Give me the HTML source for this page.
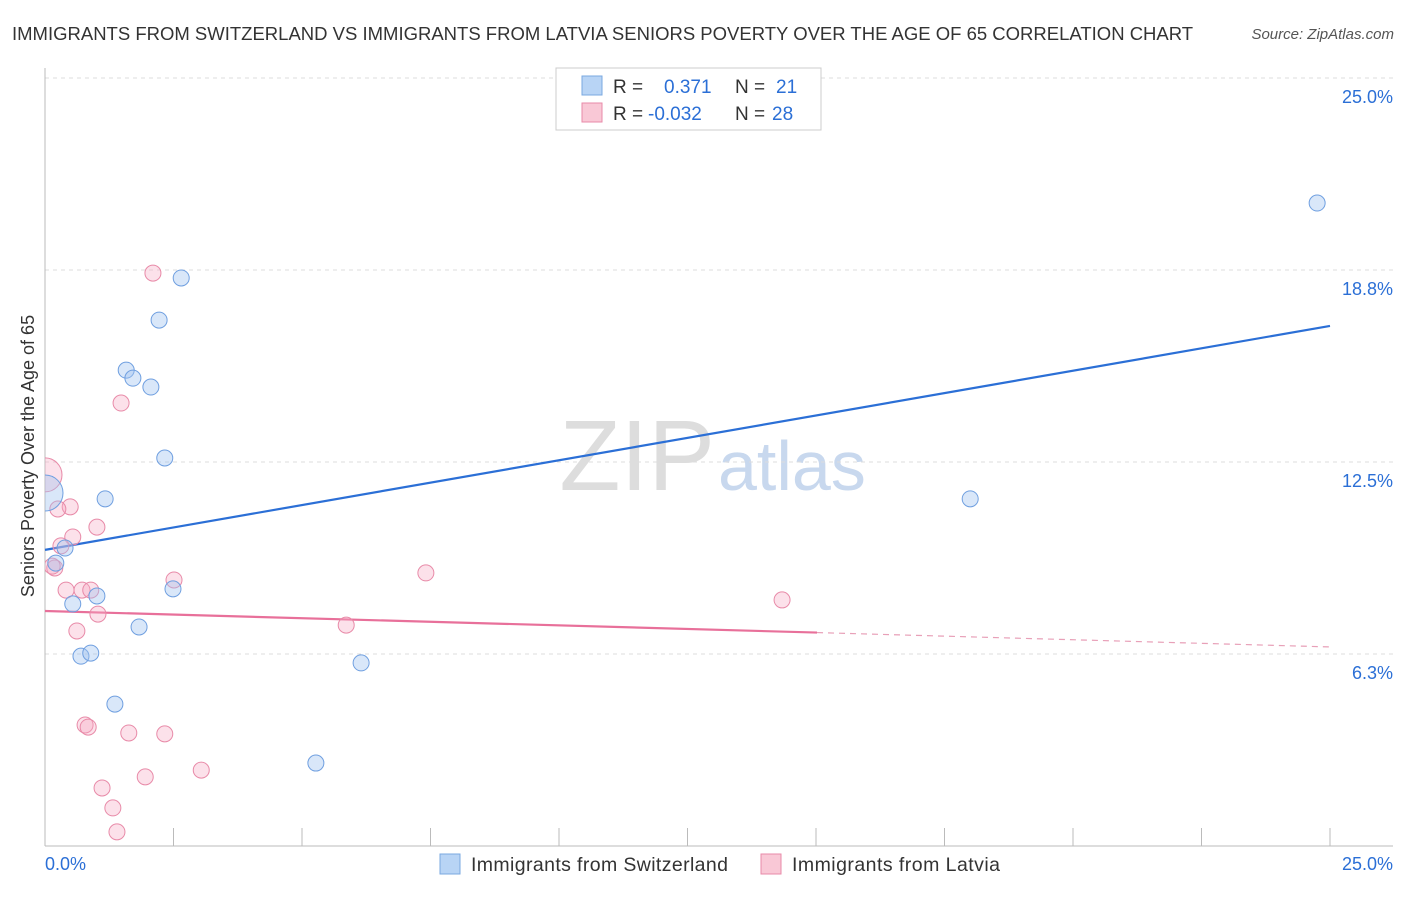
<!DOCTYPE html>
<html><head><meta charset="utf-8"><style>
body{margin:0;background:#fff;font-family:"Liberation Sans",sans-serif;}
svg text{font-family:"Liberation Sans",sans-serif;}
</style></head><body>
<svg id="chart" width="1406" height="892">
<defs><clipPath id="plotclip"><rect x="45" y="60" width="1360" height="786"/></clipPath></defs>
<text x="12" y="40" font-size="18.5" fill="#333">IMMIGRANTS FROM SWITZERLAND VS IMMIGRANTS FROM LATVIA SENIORS POVERTY OVER THE AGE OF 65 CORRELATION CHART</text>
<text x="1394" y="39" font-size="15" fill="#555" text-anchor="end" font-style="italic">Source: ZipAtlas.com</text>
<text x="715" y="490" font-size="100" fill="#ddd" text-anchor="end" font-family="Liberation Serif">ZIP</text>
<text x="718" y="490" font-size="70" fill="#c8d8ee">atlas</text>
<text transform="translate(34,456) rotate(-90)" font-size="18" fill="#333" text-anchor="middle">Seniors Poverty Over the Age of 65</text>
<g id="grid"></g><g id="axes"></g><g id="lines"></g><g id="pts" clip-path="url(#plotclip)"></g>
<g>
<rect x="556" y="68" width="265" height="62" fill="#fff" stroke="#ccc"/>
<rect x="582" y="76" width="20" height="19" fill="#b8d4f5" stroke="#7aa8e0"/>
<rect x="582" y="103" width="20" height="19" fill="#f9c8d6" stroke="#e88aa8"/>
<text x="613" y="93" font-size="19" fill="#333">R = <tspan fill="#2b6fd6" x="664">0.371</tspan><tspan x="735" fill="#333">N = </tspan><tspan fill="#2b6fd6" x="776">21</tspan></text>
<text x="613" y="120" font-size="19" fill="#333">R = <tspan fill="#2b6fd6" x="648">-0.032</tspan><tspan x="735" fill="#333">N = </tspan><tspan fill="#2b6fd6" x="772">28</tspan></text>
</g>
<g>
<rect x="440" y="854" width="20" height="20" fill="#b8d4f5" stroke="#7aa8e0"/>
<text x="471" y="871" font-size="19.5" fill="#333" textLength="257">Immigrants from Switzerland</text>
<rect x="761" y="854" width="20" height="20" fill="#f9c8d6" stroke="#e88aa8"/>
<text x="792" y="871" font-size="19.5" fill="#333" textLength="208">Immigrants from Latvia</text>
</g>
</svg>
<script>
const yTicks=[25,18.75,12.5,6.25];
const yTickLabels=["25.0%","18.8%","12.5%","6.3%"];
const xTickLabels=["0.0%","25.0%"];
const swissX=[24.75,2.65,2.22,1.58,1.71,2.06,2.33,1.17,18.0,0.39,0.21,0.54,1.01,2.49,1.83,0.70,0.89,6.15,1.36,5.27,0];
const swissY=[20.93,18.49,17.12,15.49,15.23,14.94,12.63,11.30,11.30,9.70,9.21,7.88,8.14,8.37,7.13,6.18,6.28,5.96,4.62,2.70,11.49];
const latviaX=[2.10,1.48,0,0.49,0.25,1.01,0.54,0.31,0.19,0.14,0.41,0.72,0.89,2.51,1.03,0.62,5.86,7.41,14.34,0.78,0.84,1.63,2.33,1.95,3.04,1.11,1.32,1.40];
const latviaY=[18.65,14.42,12.08,11.04,10.97,10.38,10.06,9.77,9.05,9.11,8.33,8.33,8.33,8.66,7.55,7.00,7.19,8.89,8.01,3.94,3.87,3.68,3.65,2.25,2.47,1.89,1.24,0.46];
const swissTrend=[9.64,16.93];
const latviaTrend=[7.65,6.48];
const latviaSolidEnd=15.02;
const NS="http://www.w3.org/2000/svg";
const X=v=>45+v*51.4, Y=v=>846-v*30.72;
function mk(tag,attrs,parent){const e=document.createElementNS(NS,tag);for(const k in attrs)e.setAttribute(k,attrs[k]);document.getElementById(parent).appendChild(e);return e;}
yTicks.forEach((t,i)=>{
 const g=mk('line',{x1:45,x2:1393,y1:Y(t),y2:Y(t),stroke:'#ddd','stroke-dasharray':'4,4'},'grid');
 
 
 const tx=mk('text',{x:1393,y:Y(t)+25,'font-size':18,fill:'#2b6fd6','text-anchor':'end'},'grid');
 tx.textContent=yTickLabels[i];
 
 
});
let a=mk('line',{x1:45,x2:45,y1:68,y2:846,stroke:'#bbb'},'axes');


a=mk('line',{x1:45,x2:1393,y1:846,y2:846,stroke:'#bbb'},'axes');


for(let i=0;i<=10;i++){const t=mk('line',{x1:X(i*2.5),x2:X(i*2.5),y1:828,y2:846,stroke:'#bbb'},'axes');
 
 }
[[0,"start",45],[25,"end",1393]].forEach((d,i)=>{const t=mk('text',{x:d[2],y:870,'font-size':18,fill:'#2b6fd6','text-anchor':d[1]},'axes');t.textContent=xTickLabels[i];
 
 });
let l=mk('line',{x1:X(0),y1:Y(swissTrend[0]),x2:X(25),y2:Y(swissTrend[1]),stroke:'#2b6fd6','stroke-width':2.2},'lines');


const ly=x=>latviaTrend[0]+(latviaTrend[1]-latviaTrend[0])*x/25;
l=mk('line',{x1:X(0),y1:Y(ly(0)),x2:X(latviaSolidEnd),y2:Y(ly(latviaSolidEnd)),stroke:'#e8709a','stroke-width':2.2},'lines');


l=mk('line',{x1:X(latviaSolidEnd),y1:Y(ly(latviaSolidEnd)),x2:X(25),y2:Y(ly(25)),stroke:'#e8a0b8','stroke-width':1.2,'stroke-dasharray':'6,5'},'lines');


latviaX.forEach((x,i)=>{const c=mk('circle',{cx:X(x),cy:Y(latviaY[i]),r:x===0?17:8,fill:'rgba(245,170,195,0.35)',stroke:'#e88aa8','stroke-width':1},'pts');
 
 });
swissX.forEach((x,i)=>{const c=mk('circle',{cx:X(x),cy:Y(swissY[i]),r:x===0?18:8,fill:'rgba(160,195,240,0.4)',stroke:'#6f9fe0','stroke-width':1},'pts');
 
 });
</script>
</body></html>
